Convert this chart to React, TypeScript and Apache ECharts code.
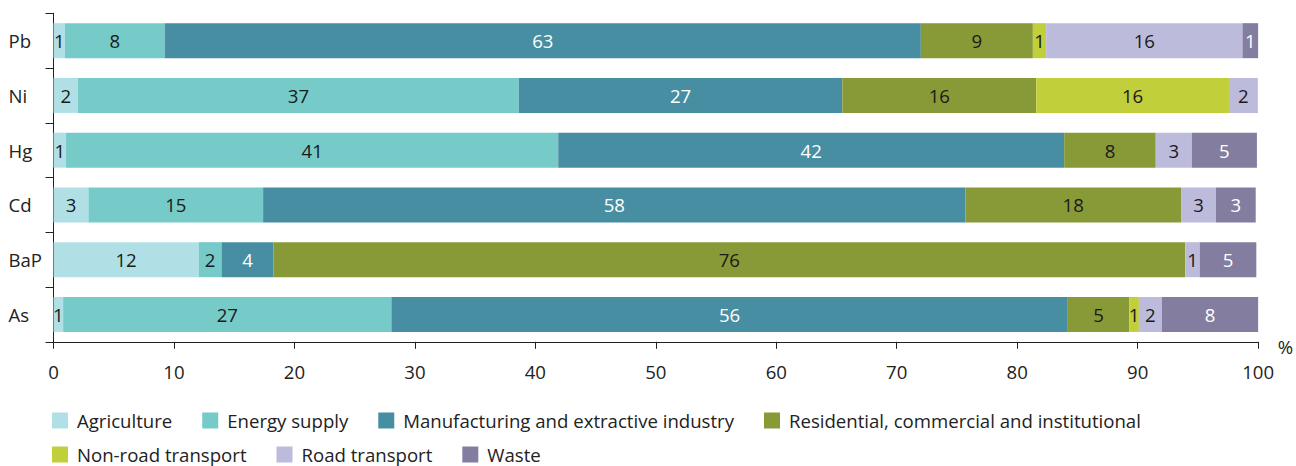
import React, { useEffect, useRef } from "react";
import * as echarts from "echarts";

const categories = ["As", "BaP", "Cd", "Hg", "Ni", "Pb"];

const sectorNames = [
  "Agriculture",
  "Energy supply",
  "Manufacturing and extractive industry",
  "Residential, commercial and institutional",
  "Non-road transport",
  "Road transport",
  "Waste",
];

// values in % per pollutant, order matches categories (As, BaP, Cd, Hg, Ni, Pb)
const agriculture = [0.8, 12.05, 2.9, 1.04, 2.03, 0.95];
const energySupply = [27.25, 1.9, 14.5, 40.86, 36.6, 8.28];
const manufacturing = [56.15, 4.3, 58.3, 42.0, 26.85, 62.77];
const residential = [5.1, 75.7, 17.9, 7.6, 16.1, 9.3];
const nonRoad = [0.8, 0, 0, 0, 16.0, 1.1];
const roadTransport = [1.9, 1.2, 2.9, 3.0, 2.4, 16.3];
const waste = [8.0, 4.7, 3.3, 5.4, 0, 1.3];

const xTicks = [0, 10, 20, 30, 40, 50, 60, 70, 80, 90, 100];

const seriesValues = [agriculture, energySupply, manufacturing, residential, nonRoad, roadTransport, waste];
const colors = ["#b0e0e6", "#76cbc9", "#478ea3", "#879a37", "#c0cf3a", "#bdbbdc", "#837ea0"];
const labelColors = ["#1a1a1a", "#1a1a1a", "#ffffff", "#1a1a1a", "#1a1a1a", "#1a1a1a", "#ffffff"];

const FONT = "'Open Sans', sans-serif";
const FS = 18.6;

export default function App() {
  const ref = useRef<HTMLDivElement>(null);

  useEffect(() => {
    if (!ref.current) return;
    const chart = echarts.init(ref.current, undefined, { renderer: "svg" });
    const legendBase = {
      left: 52,
      orient: "horizontal",
      icon: "rect",
      itemWidth: 16,
      itemHeight: 16,
      itemGap: 30,
      padding: 0,
      selectedMode: false,
      textStyle: { fontSize: FS, color: "#222", fontFamily: FONT, padding: [0, 0, 0, 4] },
    };
    chart.setOption({
      animation: false,
      textStyle: { fontFamily: FONT },
      grid: { left: 53.5, top: 13.3, right: 35.3, bottom: 124.2, containLabel: false },
      legend: [
        { ...legendBase, top: 411, data: sectorNames.slice(0, 4) },
        { ...legendBase, top: 445, data: sectorNames.slice(4) },
      ],
      xAxis: {
        type: "value",
        min: xTicks[0],
        max: xTicks[xTicks.length - 1],
        interval: 10,
        name: "%",
        nameLocation: "end",
        nameGap: 19.5,
        nameTextStyle: {
          fontSize: FS,
          color: "#222",
          fontFamily: FONT,
          verticalAlign: "top",
          lineHeight: 10,
        },
        axisLine: { show: true, lineStyle: { color: "#222", width: 1 } },
        axisTick: { show: true, length: 7, lineStyle: { color: "#222" } },
        splitLine: { show: false },
        axisLabel: { fontSize: FS, color: "#222", fontFamily: FONT, margin: 20 },
      },
      yAxis: {
        type: "category",
        data: categories,
        axisLine: { show: true, lineStyle: { color: "#222", width: 1 } },
        axisTick: { show: true, length: 8, lineStyle: { color: "#222" } },
        axisLabel: { fontSize: FS, color: "#222", fontFamily: FONT, align: "left", margin: 45 },
      },
      series: sectorNames.map((name, i) => ({
        name,
        type: "bar",
        stack: "total",
        barWidth: 35,
        itemStyle: { color: colors[i] },
        label: {
          show: true,
          position: "inside",
          fontSize: FS,
          fontFamily: FONT,
          color: labelColors[i],
          formatter: (p: any) => (p.value > 0 ? String(Math.round(p.value)) : ""),
        },
        labelLayout: { hideOverlap: false },
        data: seriesValues[i],
      })),
    });
    return () => chart.dispose();
  }, []);

  return (
    <div
      ref={ref}
      style={{ position: "fixed", left: 0, top: 0, width: 1296, height: 466, background: "#fff" }}
    />
  );
}
